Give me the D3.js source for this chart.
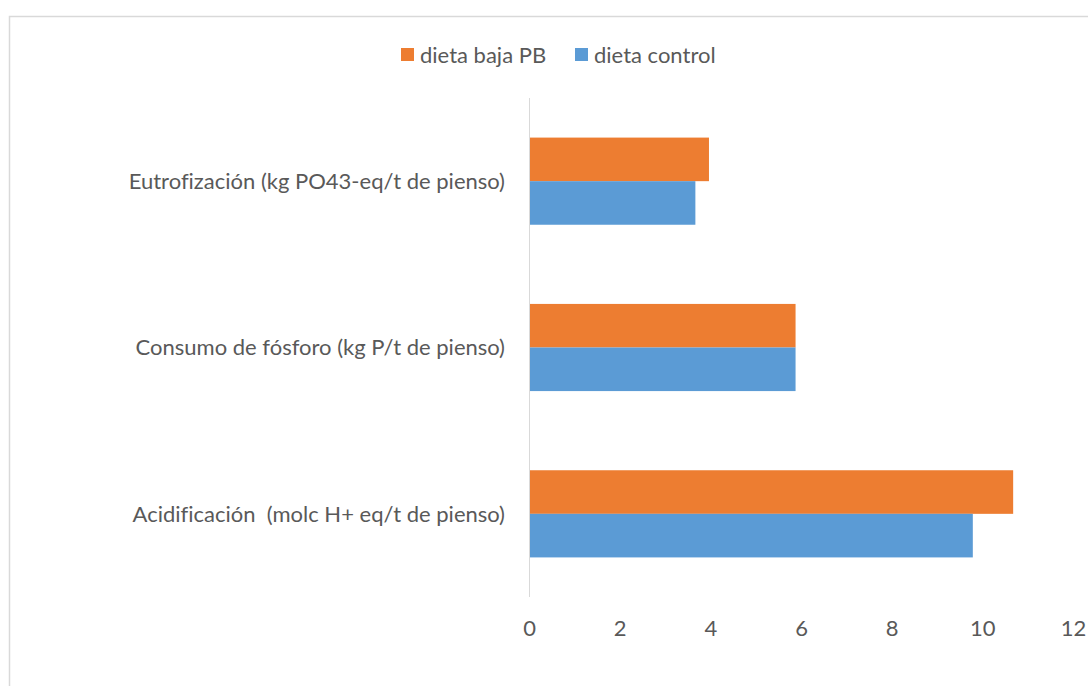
<!DOCTYPE html>
<html>
<head>
<meta charset="utf-8">
<script src="https://cdn.jsdelivr.net/npm/d3@7"></script>
<style>
  html, body { margin: 0; padding: 0; background: #fff; }
  svg text { font-family: Lato, "Open Sans", sans-serif; fill: #595959; white-space: pre; font-variant-ligatures: none; }
</style>
</head>
<body>
<div id="chart"></div>
<script>
// Data
const categories = [
    "Eutrofización (kg PO43-eq/t de pienso)",
    "Consumo de fósforo (kg P/t de pienso)",
    "Acidificación  (molc H+ eq/t de pienso)"
];
const seriesNames = ["dieta baja PB", "dieta control"];
const bajaPB = [3.97, 5.88, 10.68];
const control = [3.67, 5.88, 9.79];
const xTicks = [0, 2, 4, 6, 8, 10, 12];
const colors = ["#ed7d31", "#5b9bd5"];

// Layout
const w = 1088;
const h = 686;
const plot = { left: 529, right: 1073, top: 98, bottom: 597 };
const fontSize = "22px";

const svg = d3.select("#chart")
    .append("svg")
    .attr("width", w)
    .attr("height", h);

// chart frame
svg.append("rect")
    .attr("x", 9.5)
    .attr("y", 16.5)
    .attr("width", w + 20)
    .attr("height", h + 20)
    .attr("fill", "#fff")
    .attr("stroke", "#d9d9d9")
    .attr("stroke-width", 1.5);

// Scales
const xScale = d3.scaleLinear()
    .domain([0, 12])
    .range([plot.left, plot.right]);
const yScale = d3.scaleBand()
    .domain(categories)
    .range([plot.top, plot.bottom])
    .paddingInner(0.476)
    .paddingOuter(0.238);
const subScale = d3.scaleBand()
    .domain(seriesNames)
    .range([0, yScale.bandwidth()]);

// Bars
const rows = categories.map((c, i) => ({ cat: c, values: [bajaPB[i], control[i]] }));
const groups = svg.selectAll("g.row")
    .data(rows)
    .enter()
    .append("g")
    .attr("class", "row")
    .attr("transform", d => "translate(0," + yScale(d.cat) + ")");
groups.selectAll("rect")
    .data(d => d.values.map((v, j) => ({ name: seriesNames[j], value: v, j: j })))
    .enter()
    .append("rect")
    .attr("x", xScale(0))
    .attr("y", d => subScale(d.name))
    .attr("width", d => xScale(d.value) - xScale(0))
    .attr("height", subScale.bandwidth())
    .attr("fill", d => colors[d.j]);

// Vertical axis line + category labels
svg.append("line")
    .attr("x1", xScale(0) + 0.5)
    .attr("x2", xScale(0) + 0.5)
    .attr("y1", plot.top)
    .attr("y2", plot.bottom)
    .attr("stroke", "#d9d9d9")
    .attr("stroke-width", 1);
svg.selectAll("text.cat")
    .data(categories)
    .enter()
    .append("text")
    .attr("class", "cat")
    .attr("x", 505)
    .attr("y", d => yScale(d) + yScale.bandwidth() / 2)
    .attr("dy", "0.35em")
    .attr("text-anchor", "end")
    .style("font-size", fontSize)
    .text(d => d);

// X axis labels
const xAxis = d3.axisBottom(xScale).tickValues(xTicks).tickSize(0).tickPadding(0);
const gx = svg.append("g")
    .attr("transform", "translate(0,628)")
    .call(xAxis);
gx.select(".domain").remove();
gx.selectAll("text")
    .attr("dy", "0.35em")
    .style("font-size", fontSize)
    .style("fill", "#595959")
    .style("font-family", "Lato, sans-serif");

// Legend
const legendX = [401, 575];
const legend = svg.selectAll("g.legend")
    .data(seriesNames)
    .enter()
    .append("g")
    .attr("class", "legend")
    .attr("transform", (d, i) => "translate(" + legendX[i] + ",48)");
legend.append("rect")
    .attr("width", 13)
    .attr("height", 13)
    .attr("fill", (d, i) => colors[i]);
legend.append("text")
    .attr("x", 19)
    .attr("y", 7)
    .attr("dy", "0.35em")
    .style("font-size", fontSize)
    .text(d => d);
</script>
</body>
</html>
